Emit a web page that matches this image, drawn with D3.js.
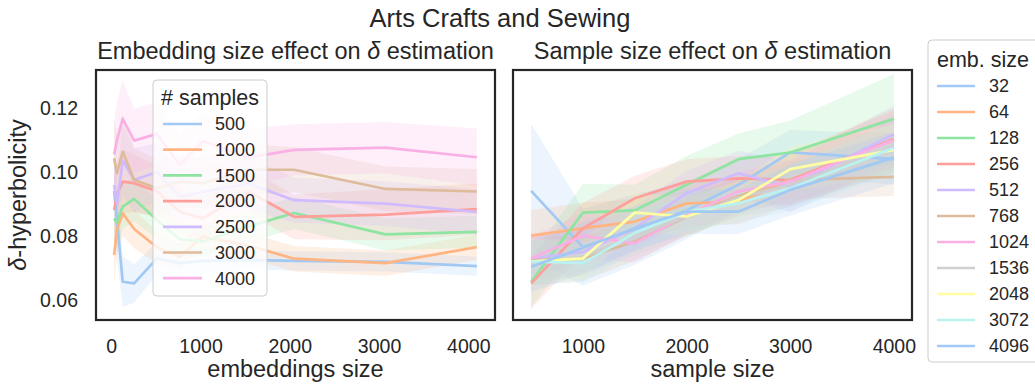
<!DOCTYPE html>
<html><head><meta charset="utf-8">
<script src="https://cdn.jsdelivr.net/npm/d3@7"></script>
<style>
html,body{margin:0;padding:0;background:#fff;}
svg{display:block;font-family:"Liberation Sans",Arial,sans-serif;}
</style></head>
<body><svg id="c" width="1035" height="384"></svg>
<script>
// ---------- data ----------
const embSizes = [32,64,128,256,512,768,1024,1536,2048,3072,4096];
const sampleSizes = [500,1000,1500,2000,2500,3000,4000];
const yTicks = [0.06,0.08,0.10,0.12];
const xTicksLeft = [0,1000,2000,3000,4000];
const xTicksRight = [1000,2000,3000,4000];

// left panel: delta vs embedding size, one series per sample size
const left500  = [0.0940,0.0850,0.0657,0.0652,0.0730,0.0715,0.0722,0.0725,0.0722,0.0719,0.0706];
const left1000 = [0.0741,0.0820,0.0871,0.0822,0.0765,0.0736,0.0798,0.0770,0.0729,0.0715,0.0765];
const left1500 = [0.0855,0.0842,0.0892,0.0916,0.0850,0.0790,0.0783,0.0830,0.0872,0.0805,0.0813];
const left2000 = [0.0881,0.0930,0.0970,0.0965,0.0940,0.0876,0.0855,0.0939,0.0860,0.0867,0.0884];
const left2500 = [0.0959,0.0901,0.1036,0.0975,0.1000,0.0922,0.0938,0.0964,0.0912,0.0901,0.0875];
const left3000 = [0.1043,0.0996,0.1063,0.0975,0.0949,0.0970,0.0965,0.1007,0.1007,0.0947,0.0939];
const left4000 = [0.1055,0.1100,0.1166,0.1098,0.1119,0.1022,0.1097,0.1045,0.1069,0.1076,0.1046];
// confidence half-widths
const leftCi500  = [0.010,0.012,0.008,0.006,0.005,0.004,0.004,0.003,0.003,0.003,0.003];
const leftCi1000 = [0.009,0.008,0.007,0.006,0.005,0.004,0.004,0.004,0.004,0.004,0.004];
const leftCi1500 = [0.010,0.008,0.007,0.007,0.006,0.005,0.005,0.005,0.005,0.005,0.005];
const leftCi2000 = [0.011,0.010,0.010,0.009,0.008,0.007,0.007,0.007,0.007,0.008,0.008];
const leftCi2500 = [0.010,0.010,0.011,0.010,0.009,0.008,0.008,0.008,0.007,0.007,0.007];
const leftCi3000 = [0.012,0.012,0.012,0.010,0.009,0.008,0.008,0.008,0.007,0.007,0.007];
const leftCi4000 = [0.010,0.012,0.012,0.010,0.010,0.009,0.009,0.009,0.008,0.008,0.009];

// right panel: delta vs sample size, one series per embedding size
const right32   = [0.0941,0.0765,0.0820,0.0880,0.0960,0.1061,0.1040];
const right64   = [0.0801,0.0824,0.0845,0.0902,0.0907,0.0975,0.1100];
const right128  = [0.0657,0.0873,0.0880,0.0960,0.1040,0.1061,0.1166];
const right256  = [0.0652,0.0824,0.0918,0.0970,0.0980,0.0975,0.1103];
const right512  = [0.0730,0.0750,0.0824,0.0934,0.0996,0.0954,0.1118];
const right768  = [0.0725,0.0730,0.0783,0.0860,0.0925,0.0975,0.0985];
const right1024 = [0.0730,0.0801,0.0777,0.0866,0.0939,0.0970,0.1100];
const right1536 = [0.0720,0.0735,0.0800,0.0860,0.0920,0.0960,0.1080];
const right2048 = [0.0720,0.0730,0.0873,0.0861,0.0912,0.1009,0.1069];
const right3072 = [0.0720,0.0715,0.0809,0.0876,0.0902,0.0949,0.1076];
const right4096 = [0.0704,0.0763,0.0824,0.0876,0.0876,0.0944,0.1045];
const rightCi32   = [0.021,0.012,0.011,0.009,0.008,0.007,0.008];
const rightCi64   = [0.008,0.008,0.007,0.007,0.007,0.008,0.010];
const rightCi128  = [0.008,0.009,0.008,0.009,0.008,0.010,0.014];
const rightCi256  = [0.008,0.008,0.007,0.007,0.007,0.008,0.009];
const rightCi512  = [0.007,0.007,0.007,0.007,0.007,0.008,0.009];
const rightCi768  = [0.008,0.007,0.006,0.006,0.006,0.006,0.006];
const rightCi1024 = [0.007,0.007,0.006,0.006,0.006,0.007,0.008];
const rightCi1536 = [0.007,0.006,0.006,0.006,0.006,0.007,0.008];
const rightCi2048 = [0.007,0.006,0.006,0.006,0.006,0.007,0.008];
const rightCi3072 = [0.007,0.006,0.006,0.006,0.006,0.007,0.008];
const rightCi4096 = [0.008,0.008,0.007,0.007,0.007,0.008,0.008];

const palette = ["#a1c9f4","#ffb482","#8de5a1","#ff9f9b","#d0bbff","#debb9b","#fab0e4","#cfcfcf","#fffea3","#b9f2f0"];

const leftSeries = [
  {label:"500", v:left500, ci:leftCi500},
  {label:"1000",v:left1000,ci:leftCi1000},
  {label:"1500",v:left1500,ci:leftCi1500},
  {label:"2000",v:left2000,ci:leftCi2000},
  {label:"2500",v:left2500,ci:leftCi2500},
  {label:"3000",v:left3000,ci:leftCi3000},
  {label:"4000",v:left4000,ci:leftCi4000}
];
const rightSeries = [
  {label:"32",  v:right32,  ci:rightCi32},
  {label:"64",  v:right64,  ci:rightCi64},
  {label:"128", v:right128, ci:rightCi128},
  {label:"256", v:right256, ci:rightCi256},
  {label:"512", v:right512, ci:rightCi512},
  {label:"768", v:right768, ci:rightCi768},
  {label:"1024",v:right1024,ci:rightCi1024},
  {label:"1536",v:right1536,ci:rightCi1536},
  {label:"2048",v:right2048,ci:rightCi2048},
  {label:"3072",v:right3072,ci:rightCi3072},
  {label:"4096",v:right4096,ci:rightCi4096}
];

// ---------- layout ----------
const svg = d3.select("#c");
const TXT = "#262626";
const plotTop = 70, plotBottom = 320;
const panels = [
  {x0:96, x1:495, xs:embSizes, series:leftSeries, ticks:xTicksLeft, xlabel:"embeddings size",
   title:"Embedding size effect on ", showY:true},
  {x0:513, x1:912, xs:sampleSizes, series:rightSeries, ticks:xTicksRight, xlabel:"sample size",
   title:"Sample size effect on ", showY:false}
];

const yExt = [0.05375, 0.13187];
const y = d3.scaleLinear().domain(yExt).range([plotBottom, plotTop]);

svg.append("text").attr("x",500).attr("y",27).attr("text-anchor","middle")
  .attr("font-size",25.5).attr("fill",TXT).text("Arts Crafts and Sewing");

const defs = svg.append("defs");

panels.forEach((p,pi)=>{
  const ext = d3.extent(p.xs), pad = (ext[1]-ext[0])*0.05;
  const x = d3.scaleLinear().domain([ext[0]-pad, ext[1]+pad]).range([p.x0, p.x1]);
  defs.append("clipPath").attr("id","clip"+pi).append("rect")
    .attr("x",p.x0).attr("y",plotTop).attr("width",p.x1-p.x0).attr("height",plotBottom-plotTop);
  const g = svg.append("g").attr("clip-path","url(#clip"+pi+")");
  const gBands = g.append("g"), gLines = g.append("g");
  const line = d3.line().x((d,i)=>x(p.xs[i])).y(d=>y(d));
  p.series.forEach((s,si)=>{
    const col = palette[si % palette.length];
    const area = d3.area().x((d,i)=>x(p.xs[i])).y0((d,i)=>y(d - s.ci[i])).y1((d,i)=>y(d + s.ci[i]));
    gBands.append("path").datum(s.v).attr("d",area).attr("fill",col).attr("fill-opacity",0.2).attr("stroke","none");
    gLines.append("path").datum(s.v).attr("d",line).attr("fill","none")
      .attr("stroke",col).attr("stroke-width",2.7).attr("stroke-linejoin","round").attr("stroke-linecap","butt");
  });
  // frame
  svg.append("rect").attr("x",p.x0).attr("y",plotTop).attr("width",p.x1-p.x0).attr("height",plotBottom-plotTop)
    .attr("fill","none").attr("stroke",TXT).attr("stroke-width",2.2);
  // x axis
  const xa = d3.axisBottom(x).tickValues(p.ticks).tickSize(0).tickPadding(0).tickFormat(d3.format("d"));
  const xg = svg.append("g").attr("transform",`translate(0,${plotBottom})`).call(xa);
  xg.select(".domain").remove();
  xg.selectAll("text").attr("font-size",19.5).attr("fill",TXT).attr("font-family","Liberation Sans, Arial, sans-serif")
    .attr("dy",null).attr("y",33);
  svg.append("text").attr("x",(p.x0+p.x1)/2).attr("y",377).attr("text-anchor","middle")
    .attr("font-size",23.5).attr("fill",TXT).text(p.xlabel);
  // y axis
  if(p.showY){
    const ya = d3.axisLeft(y).tickValues(yTicks).tickSize(0).tickPadding(18).tickFormat(d3.format(".2f"));
    const yg = svg.append("g").attr("transform",`translate(${p.x0},0)`).call(ya);
    yg.select(".domain").remove();
    yg.selectAll("text").attr("font-size",19.5).attr("fill",TXT).attr("font-family","Liberation Sans, Arial, sans-serif");
    const yl = svg.append("text").attr("transform",`translate(26,${(plotTop+plotBottom)/2}) rotate(-90)`)
      .attr("text-anchor","middle").attr("font-size",23.5).attr("fill",TXT);
    yl.append("tspan").attr("font-style","italic").text("δ");
    yl.append("tspan").text("-hyperbolicity");
  }
  // subplot title
  const t = svg.append("text").attr("x",(p.x0+p.x1)/2).attr("y",59).attr("text-anchor","middle")
    .attr("font-size",23.5).attr("fill",TXT);
  t.append("tspan").text(p.title);
  t.append("tspan").attr("font-style","italic").text("δ");
  t.append("tspan").text(" estimation");
});

// ---------- legends ----------
function legend(cfg){
  const g = svg.append("g");
  g.append("rect").attr("x",cfg.x).attr("y",cfg.y).attr("width",cfg.w).attr("height",cfg.h)
    .attr("rx",4).attr("fill","#fff").attr("fill-opacity",0.8).attr("stroke","#cccccc").attr("stroke-width",1);
  g.append("text").attr("x",cfg.titleX).attr("y",cfg.titleY).attr("text-anchor",cfg.titleAnchor)
    .attr("font-size",cfg.titleSize).attr("fill",TXT).text(cfg.title);
  cfg.series.forEach((s,i)=>{
    const cy = cfg.y0 + i*cfg.step;
    g.append("line").attr("x1",cfg.lx1).attr("x2",cfg.lx2).attr("y1",cy).attr("y2",cy)
      .attr("stroke",palette[i % palette.length]).attr("stroke-width",2.7);
    g.append("text").attr("x",cfg.tx).attr("y",cy+6.3).attr("font-size",cfg.labelSize)
      .attr("fill",TXT).text(s.label);
  });
}
legend({x:153,y:80,w:114,h:216,title:"# samples",titleX:210,titleY:105,titleAnchor:"middle",titleSize:21.5,
  series:leftSeries,y0:124,step:25.7,lx1:163,lx2:202,tx:215,labelSize:18});
legend({x:928,y:40,w:120,h:322,title:"emb. size",titleX:937,titleY:67,titleAnchor:"start",titleSize:21.5,
  series:rightSeries,y0:86,step:26,lx1:937,lx2:975,tx:989,labelSize:18});
</script></body></html>
